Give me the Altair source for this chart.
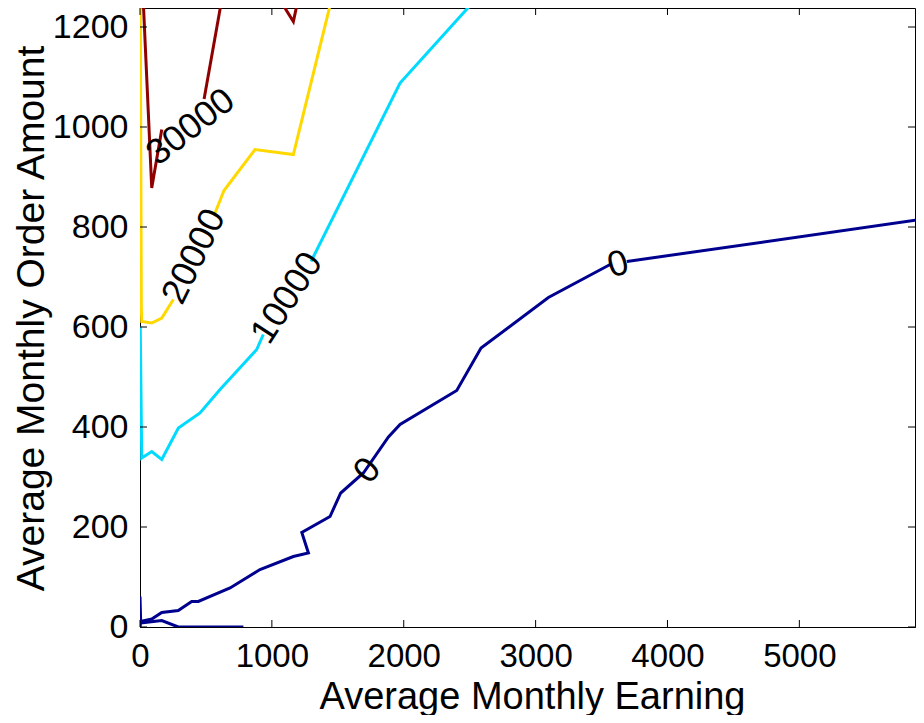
import altair as alt
import pandas as pd

# Axis ticks
x_ticks = [0, 1000, 2000, 3000, 4000, 5000]
y_ticks = [0, 200, 400, 600, 800, 1000, 1200]

levels = ["0", "10000", "20000", "30000"]
level_colors = ["#00008F", "#00DAFF", "#FFD800", "#8F0000"]

# Contour level 0
c0a_x = [0, 5, 89, 165, 290, 392, 442, 683, 910, 1163, 1277, 1227, 1441, 1522, 1694, 1884, 1972, 2402, 2586, 3097, 3565]
c0a_y = [61, 11, 16, 29, 33, 51, 51, 78, 115, 141, 148, 189, 221, 268, 308, 380, 405, 473, 558, 659, 725]
c0b_x = [3692, 5947]
c0b_y = [731, 816]
c0c_x = [0, 5, 165, 290, 784]
c0c_y = [0, 8, 13, 0, 0]

# Contour level 10000
c1a_x = [2, 13, 89, 165, 291, 455, 607, 885, 935]
c1a_y = [601, 338, 351, 335, 398, 428, 475, 555, 585]
c1b_x = [1297, 1972, 2503]
c1b_y = [731, 1088, 1243]

# Contour level 20000
c2a_x = [2, 10, 13, 89, 165, 253]
c2a_y = [1260, 640, 611, 608, 618, 655]
c2b_x = [569, 637, 872, 1163, 1441]
c2b_y = [828, 873, 955, 945, 1243]

# Contour level 30000
c3a_x = [25, 89, 165]
c3a_y = [1250, 878, 995]
c3b_x = [486, 612]
c3b_y = [1056, 1243]
c3c_x = [1087, 1163, 1189]
c3c_y = [1243, 1211, 1243]

# Contour labels
lab_text = ["30000", "20000", "10000", "0", "0"]
lab_x = [385, 410, 1115, 1725, 3626]
lab_y = [1000, 741, 658, 313, 725]
lab_angle = [322, 296, 303, 310, 344]

segments = [
    ("0", "c0a", c0a_x, c0a_y), ("0", "c0b", c0b_x, c0b_y),
    ("0", "c0c", c0c_x, c0c_y),
    ("10000", "c1a", c1a_x, c1a_y), ("10000", "c1b", c1b_x, c1b_y),
    ("20000", "c2a", c2a_x, c2a_y), ("20000", "c2b", c2b_x, c2b_y),
    ("30000", "c3a", c3a_x, c3a_y), ("30000", "c3b", c3b_x, c3b_y),
    ("30000", "c3c", c3c_x, c3c_y),
]
rows = []
for lev, seg, xs, ys in segments:
    for i, (xv, yv) in enumerate(zip(xs, ys)):
        rows.append({"x": xv, "y": yv, "level": lev, "seg": seg, "i": i})
df = pd.DataFrame(rows)

labels_df = pd.DataFrame({"text": lab_text, "x": lab_x, "y": lab_y, "angle": lab_angle})

W, H = 775, 619
FONT = "Liberation Sans"

xscale = alt.Scale(domain=[0, 5877], nice=False, zero=False)
yscale = alt.Scale(domain=[0, 1238], nice=False, zero=False)

xaxis = alt.Axis(values=x_ticks, format="d", grid=False, ticks=False, labelFlush=False,
                 labelFont=FONT, labelFontSize=33, labelColor="black", labelPadding=13,
                 domainColor="black", domainWidth=1, labelOverlap=False,
                 title="Average Monthly Earning", titleFont=FONT, titleFontSize=38,
                 titleFontWeight="normal", titleColor="black",
                 titleX=392, titleY=81, titleBaseline="alphabetic", titleAlign="center")
yaxis = alt.Axis(values=y_ticks, format="d", grid=False, ticks=False, labelFlush=False,
                 labelFont=FONT, labelFontSize=34, labelColor="black", labelPadding=12,
                 domainColor="black", domainWidth=1, labelOverlap=False,
                 title="Average Monthly Order Amount", titleFont=FONT, titleFontSize=39,
                 titleFontWeight="normal", titleColor="black", titleAngle=270,
                 titleX=-97, titleY=310, titleBaseline="alphabetic", titleAlign="center")

lines = alt.Chart(df).mark_line(strokeWidth=3, clip=True).encode(
    x=alt.X("x:Q", scale=xscale, axis=xaxis),
    y=alt.Y("y:Q", scale=yscale, axis=yaxis),
    color=alt.Color("level:N", scale=alt.Scale(domain=levels, range=level_colors), legend=None),
    detail="seg:N",
    order="i:Q",
)

texts = alt.Chart(labels_df).mark_text(font=FONT, fontSize=36, color="black",
                                       align="center", baseline="middle").encode(
    x=alt.X("x:Q", scale=xscale, axis=xaxis),
    y=alt.Y("y:Q", scale=yscale, axis=yaxis),
    text="text:N",
    angle=alt.Angle("angle:Q", scale=None),
)

xt = pd.DataFrame({"x": x_ticks})
yt = pd.DataFrame({"y": y_ticks})
tb = alt.Chart(xt).mark_rule(color="black", strokeWidth=1).encode(
    x=alt.X("x:Q", scale=xscale, axis=xaxis), y=alt.value(H), y2=alt.value(H - 7))
tt = alt.Chart(xt).mark_rule(color="black", strokeWidth=1).encode(
    x=alt.X("x:Q", scale=xscale, axis=xaxis), y=alt.value(0), y2=alt.value(7))
tl = alt.Chart(yt).mark_rule(color="black", strokeWidth=1).encode(
    y=alt.Y("y:Q", scale=yscale, axis=yaxis), x=alt.value(0), x2=alt.value(7))
tr = alt.Chart(yt).mark_rule(color="black", strokeWidth=1).encode(
    y=alt.Y("y:Q", scale=yscale, axis=yaxis), x=alt.value(W - 7), x2=alt.value(W))

chart = alt.layer(lines, texts, tb, tt, tl, tr).properties(
    width=W, height=H,
    autosize=alt.AutoSizeParams(type="none"),
    padding={"left": 132, "top": 0, "right": 1, "bottom": 88},
    background="white",
).configure_view(stroke="black", strokeWidth=1)

chart.save("out.html", embed_options={"renderer": "svg", "actions": False})
